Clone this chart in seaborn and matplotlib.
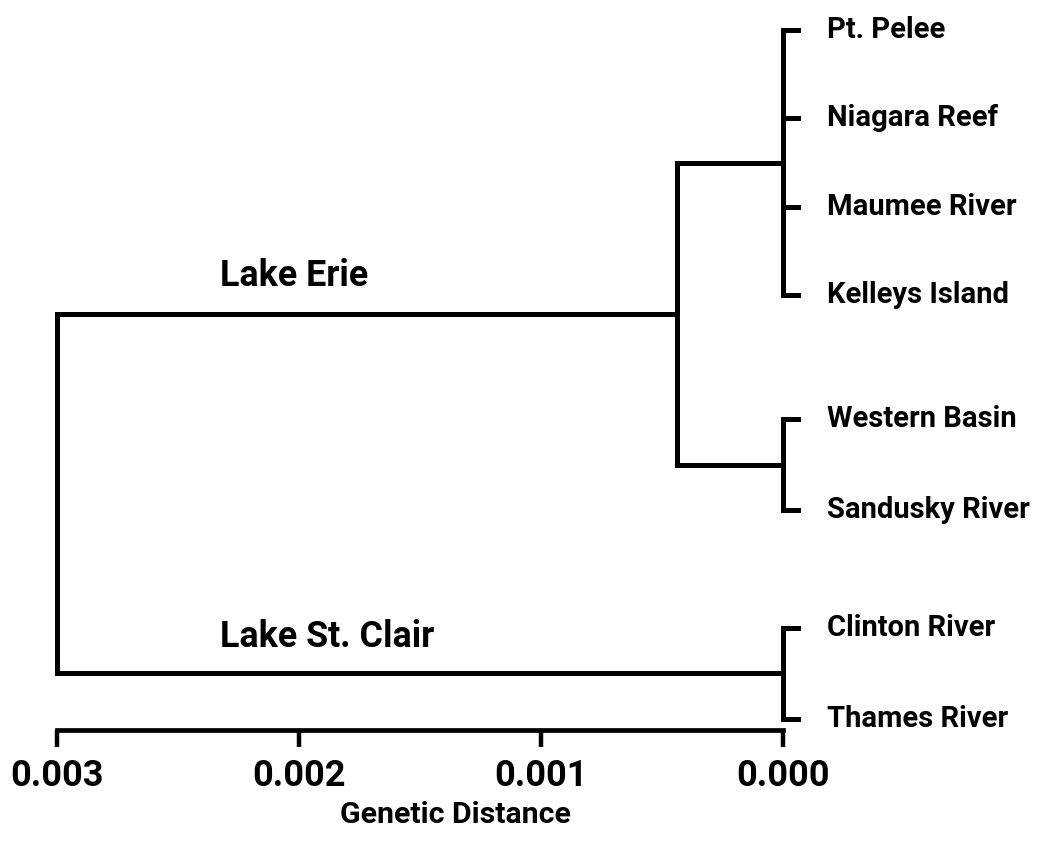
import pandas as pd
import seaborn as sns
import matplotlib
matplotlib.use("Agg")
import matplotlib.pyplot as plt

sns.set_theme(style="white")
plt.rcParams['font.family'] = ['Roboto', 'DejaVu Sans']
plt.rcParams['text.color'] = 'black'
plt.rcParams['xtick.color'] = 'black'

# leaves, top to bottom, and their vertical positions (row units)
leaves = ["Pt. Pelee", "Niagara Reef", "Maumee River", "Kelleys Island",
          "Western Basin", "Sandusky River", "Clinton River", "Thames River"]
leaf_y = [0, 1, 2.01, 3.01, 4.41, 5.45, 6.78, 7.81]

# terminal groups (leaves joined at zero distance)
groups = [[0, 1, 2, 3], [4, 5], [6, 7]]
group_dist = [0.0, 0.0, 0.0]

# internal nodes
erie_dist = 0.00044      # joins groups 0 and 1
root_dist = 0.003        # joins Lake Erie and group 2
cluster_names = ["Lake Erie", "Lake St. Clair"]

ticks = [0.003, 0.002, 0.001, 0.000]
tick_labels = ["0.003", "0.002", "0.001", "0.000"]

stub = 0.00006


def build_segments():
    segs = []

    def add(x0, y0, x1, y1):
        sid = len(segs) // 2
        segs.append((sid, x0, y0))
        segs.append((sid, x1, y1))

    mids = []
    for g, d in zip(groups, group_dist):
        ys = [leaf_y[i] for i in g]
        add(d, min(ys), d, max(ys))
        for y in ys:
            add(d, y, -stub, y)
        mids.append((min(ys) + max(ys)) / 2)

    add(erie_dist, mids[0], erie_dist, mids[1])
    add(erie_dist, mids[0], group_dist[0], mids[0])
    add(erie_dist, mids[1], group_dist[1], mids[1])
    erie_mid = (mids[0] + mids[1]) / 2

    add(root_dist, erie_mid, root_dist, mids[2])
    add(root_dist, erie_mid, erie_dist, erie_mid)
    add(root_dist, mids[2], group_dist[2], mids[2])

    df = pd.DataFrame(segs, columns=["seg", "x", "y"])
    return df, erie_mid, mids[2]


def main():
    df, erie_mid, clair_mid = build_segments()

    fig = plt.figure(figsize=(10.43, 8.43), dpi=100)
    ax = fig.add_axes([57 / 1043, 113 / 843, 726 / 1043, 710 / 843])

    sns.lineplot(data=df, x="x", y="y", units="seg", estimator=None,
                 sort=False, color="black", linewidth=3.6, ax=ax)
    for ln in ax.lines:
        ln.set_clip_on(False)
        ln.set_solid_capstyle("projecting")

    ax.set_xlim(0.003, 0.0)
    ax.set_ylim(7.94, -0.113)

    for name, y in zip(leaves, leaf_y):
        ax.annotate(name, xy=(0, y), xytext=(32, 0), textcoords="offset points",
                    va="center", ha="left", fontsize=21, fontweight="bold",
                    annotation_clip=False)

    label_x = 0.002326
    ax.annotate(cluster_names[0], xy=(label_x, erie_mid), xytext=(0, 20),
                textcoords="offset points", va="baseline", ha="left",
                fontsize=25.8, fontweight="bold")
    ax.annotate(cluster_names[1], xy=(label_x, clair_mid), xytext=(0, 19),
                textcoords="offset points", va="baseline", ha="left",
                fontsize=25.8, fontweight="bold")

    for s in ["top", "left", "right"]:
        ax.spines[s].set_visible(False)
    ax.spines["bottom"].set_linewidth(3.4)
    ax.spines["bottom"].set_color("black")
    ax.set_xticks(ticks)
    ax.set_xticklabels(tick_labels, fontsize=26, fontweight="bold")
    ax.tick_params(axis="x", direction="out", length=12, width=3.2,
                   pad=8, color="black", bottom=True)
    ax.set_yticks([])
    ax.set_xlabel("")
    ax.set_ylabel("")

    fig.text(455 / 1043, 28 / 843, "Genetic Distance", ha="center", va="center",
             fontsize=21.8, fontweight="bold")

    fig.savefig("out.png", dpi=100, facecolor="white")
    plt.close(fig)


if __name__ == '__main__':
    main()
